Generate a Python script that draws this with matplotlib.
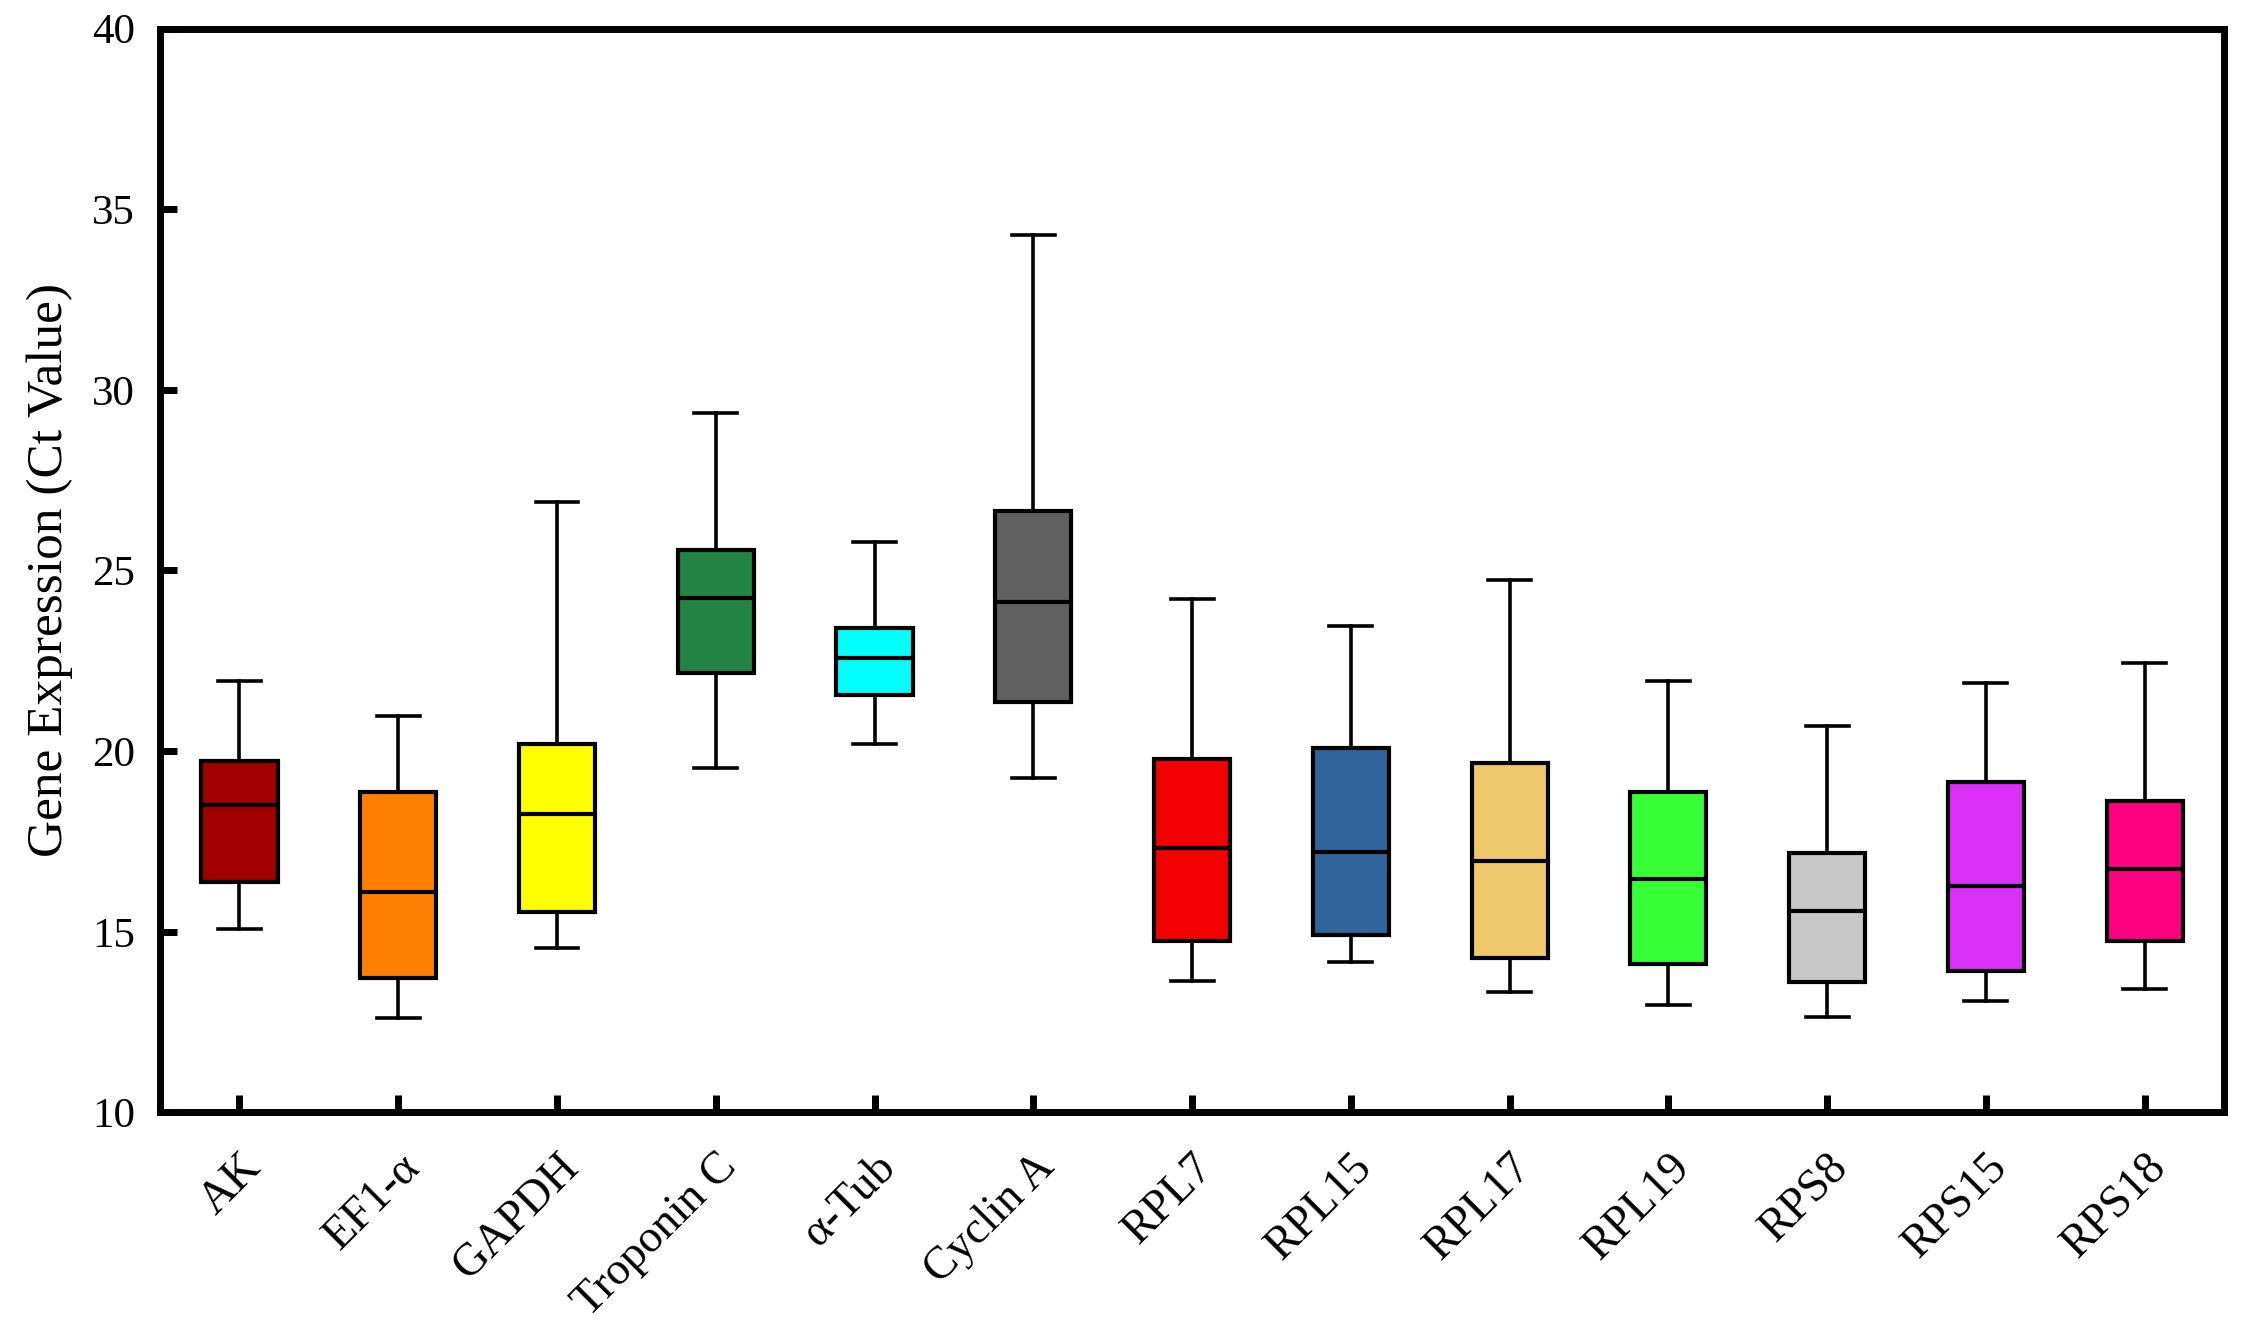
import matplotlib
matplotlib.use("Agg")
import matplotlib.pyplot as plt

genes = ["AK", "EF1-α", "GAPDH", "Troponin C", "α-Tub", "Cyclin A", "RPL7",
         "RPL15", "RPL17", "RPL19", "RPS8", "RPS15", "RPS18"]
whisker_low = [15.07, 12.62, 14.55, 19.54, 20.21, 19.26, 13.64, 14.16, 13.33, 12.97, 12.65, 13.09, 13.41]
q1 = [16.38, 13.72, 15.54, 22.15, 21.56, 21.36, 14.75, 14.91, 14.28, 14.12, 13.61, 13.92, 14.75]
median = [18.51, 16.10, 18.27, 24.25, 22.59, 24.13, 17.32, 17.21, 16.97, 16.45, 15.58, 16.26, 16.73]
q3 = [19.74, 18.87, 20.21, 25.56, 23.42, 26.66, 19.78, 20.10, 19.66, 18.87, 17.17, 19.15, 18.63]
whisker_high = [21.95, 20.97, 26.90, 29.35, 25.80, 34.30, 24.21, 23.46, 24.73, 21.95, 20.69, 21.88, 22.43]
colors = ["#A00000", "#FF8000", "#FFFF00", "#228444", "#00FFFF", "#606060", "#F40000",
          "#31649A", "#EDC96B", "#36FF36", "#C8C8C8", "#DA30F7", "#FF0080"]

plt.rcParams['font.family'] = ['Liberation Serif', 'DejaVu Serif']

fig = plt.figure(figsize=(22.42, 13.37), dpi=100)
ax = fig.add_axes([0.0714, 0.168, 0.9206, 0.8106])

stats = []
for i, g in enumerate(genes):
    stats.append(dict(label=g, whislo=whisker_low[i], q1=q1[i], med=median[i],
                      q3=q3[i], whishi=whisker_high[i], fliers=[]))

bp = ax.bxp(stats, positions=range(1, len(genes) + 1), widths=0.48,
            patch_artist=True, showfliers=False,
            boxprops=dict(linewidth=3.0, edgecolor='black'),
            medianprops=dict(color='black', linewidth=3.0),
            whiskerprops=dict(color='black', linewidth=2.6),
            capprops=dict(color='black', linewidth=2.6),
            capwidths=0.27)
for patch, c in zip(bp['boxes'], colors):
    patch.set_facecolor(c)

ax.set_xlim(0.5, 13.5)
ax.set_ylim(10, 40)
ax.set_yticks([10, 15, 20, 25, 30, 35, 40])
ax.set_xticks(range(1, len(genes) + 1))
ax.set_xticklabels(genes, rotation=45, ha='right', va='top', rotation_mode='anchor')

for s in ax.spines.values():
    s.set_linewidth(5)
ax.tick_params(axis='both', direction='in', length=12, width=5, labelsize=31)
ax.tick_params(axis='x', pad=24, labelsize=33)
ax.tick_params(axis='y', pad=18)
ax.set_ylabel("Gene Expression (Ct Value)", fontsize=37, labelpad=14)

fig.savefig("out.png", dpi=100)
